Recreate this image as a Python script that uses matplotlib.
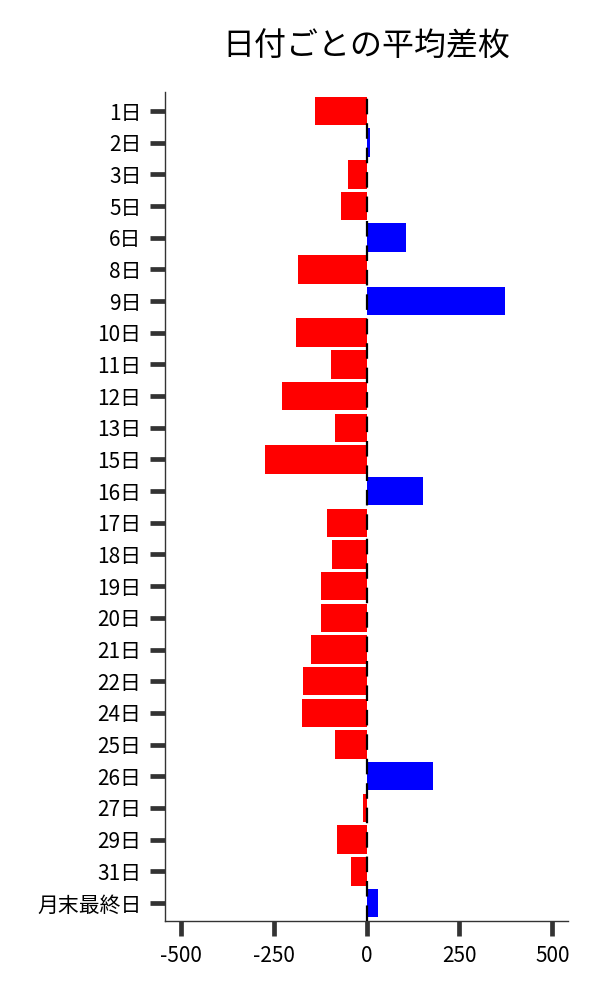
import numpy as np
import matplotlib
matplotlib.use("Agg")
import matplotlib.pyplot as plt

plt.rcParams['font.family'] = ['Noto Sans CJK JP', 'DejaVu Sans']

days = ['1日', '2日', '3日', '5日', '6日', '8日', '9日', '10日', '11日', '12日',
        '13日', '15日', '16日', '17日', '18日', '19日', '20日', '21日', '22日',
        '24日', '25日', '26日', '27日', '29日', '31日', '月末最終日']
diff = [-140, 8, -51, -68, 105, -184, 373, -189, -95, -227,
        -86, -273, 151, -108, -92, -124, -122, -149, -170,
        -173, -84, 178, -11, -81, -41, 30]

colors = ['#0000ff' if v > 0 else '#ff0000' for v in diff]
y = np.arange(len(days))

fig = plt.figure(figsize=(6, 10), dpi=100)
ax = fig.add_axes([0.275, 0.079, 0.672, 0.829])
ax.barh(y, diff, height=0.9, color=colors, zorder=2)
ax.axvline(0, color='black', lw=1.6, dashes=(7, 4), zorder=3)

ax.set_yticks(y)
ax.set_yticklabels(days)
ax.set_ylim(len(days) - 0.43, -0.6)
ax.set_xlim(-543, 543)
ax.set_xticks([-500, -250, 0, 250, 500])
ax.set_xticklabels(['-500', '-250', '0', '250', '500'])
ax.tick_params(axis='both', length=11, width=3.4, color='#333333',
               labelsize=15, pad=6)
for s in ['top', 'right']:
    ax.spines[s].set_visible(False)
for s in ['left', 'bottom']:
    ax.spines[s].set_color('#333333')
    ax.spines[s].set_linewidth(1.0)

ax.set_title('日付ごとの平均差枚', fontsize=23, pad=26)

plt.savefig('out.png', dpi=100)
